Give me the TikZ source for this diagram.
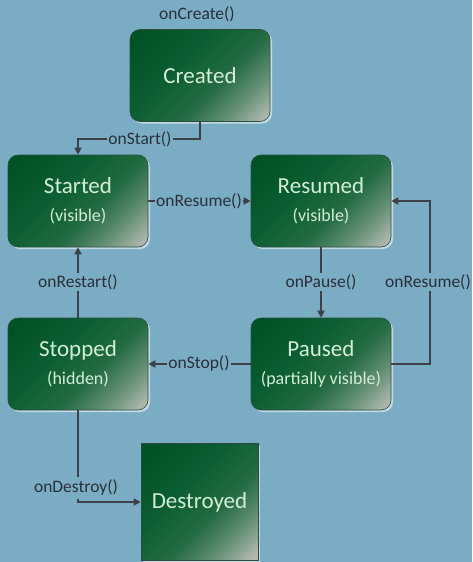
\documentclass[tikz,border=0pt]{standalone}
\usepackage{fontspec}
\setmainfont{Carlito}
\usetikzlibrary{arrows.meta,shadows}
\definecolor{bgc}{HTML}{7AADC4}
\definecolor{gdarkest}{HTML}{015225}
\definecolor{gdk}{HTML}{0B5E31}
\definecolor{gmid}{HTML}{246B42}
\definecolor{gmid2}{HTML}{5E8C70}
\definecolor{glight}{HTML}{B0B8B0}
\definecolor{linec}{HTML}{3E4048}
\definecolor{labc}{HTML}{2A2F3A}
\definecolor{titlec}{HTML}{D2EED4}
\pgfdeclareverticalshading{boxshade}{100bp}{color(0bp)=(glight); color(17bp)=(glight); color(30bp)=(gmid2); color(42bp)=(gmid); color(60bp)=(gdk); color(80bp)=(gdarkest); color(100bp)=(gdarkest)}
\tikzset{
  state/.style={shape=rectangle, rounded corners=10pt, minimum width=140pt, minimum height=92pt,
    shading=boxshade, shading angle=45,
    draw=linec!60!gdk, line width=0.6pt,
    drop shadow={shadow xshift=2pt, shadow yshift=-2pt, fill=white, opacity=0.55},
    text=titlec, align=center, inner sep=0pt},
  endstate/.style={state, rounded corners=0pt, minimum width=117pt, minimum height=117pt},
  ttl/.style={font=\fontsize{23}{25}\selectfont},
  conn/.style={draw=linec, line width=2pt, -{Triangle[length=7pt,width=7pt]}},
  lab/.style={fill=bgc, text=labc, inner sep=1.5pt, font=\fontsize{17.5}{19}\selectfont}
}
\newcommand{\sub}[1]{\\[3pt]{\fontsize{18}{19}\selectfont #1}}
\begin{document}
\begin{tikzpicture}[x=1pt,y=-1pt]
\useasboundingbox (0,0) rectangle (472,562);
\fill[bgc] (0,0) rectangle (472,562);

\node[state, ttl] (created) at (200,75.5) {Created};
\node[state, ttl] (started) at (78,201) {Started\sub{(visible)}};
\node[state, ttl] (resumed) at (321,201) {Resumed\sub{(visible)}};
\node[state, ttl] (stopped) at (78,364) {Stopped\sub{(hidden)}};
\node[state, ttl] (paused) at (321,364) {Paused\sub{(partially visible)}};
\node[endstate, ttl] (destroyed) at (199.5,502) {Destroyed};

\node[lab, fill=none] (lcreate) at (197,14) {onCreate()};

% Created -> Started
\draw[conn] (created.south) -- (200,139) -- (78,139) -- (started.north);
\node[lab] (lstart) at (140,139) {onStart()};

% Started -> Resumed
\draw[conn] (started.east) -- (resumed.west);
\node[lab] (lres1) at (199,201) {onResume()};

% Resumed -> Paused
\draw[conn] (resumed.south) -- (paused.north);
\node[lab] (lpause) at (321,282) {onPause()};

% Paused -> Resumed
\coordinate (pr1) at (430,364);
\coordinate (pr2) at (430,201);
\draw[conn] (paused.east) -- (pr1) -- (pr2) -- (resumed.east);
\node[lab] (lres2) at (428,282) {onResume()};

% Paused -> Stopped
\draw[conn] (paused.west) -- (stopped.east);
\node[lab] (lstop) at (199,364) {onStop()};

% Stopped -> Started
\draw[conn] (stopped.north) -- (started.south);
\node[lab] (lrestart) at (78,282) {onRestart()};

% Stopped -> Destroyed
\coordinate (sd) at (stopped.south |- destroyed.west);
\draw[conn] (stopped.south) -- (sd) -- (destroyed.west);
\node[lab, inner ysep=3pt] (ldestroy) at (76,488) {onDestroy()};
\end{tikzpicture}
\end{document}
